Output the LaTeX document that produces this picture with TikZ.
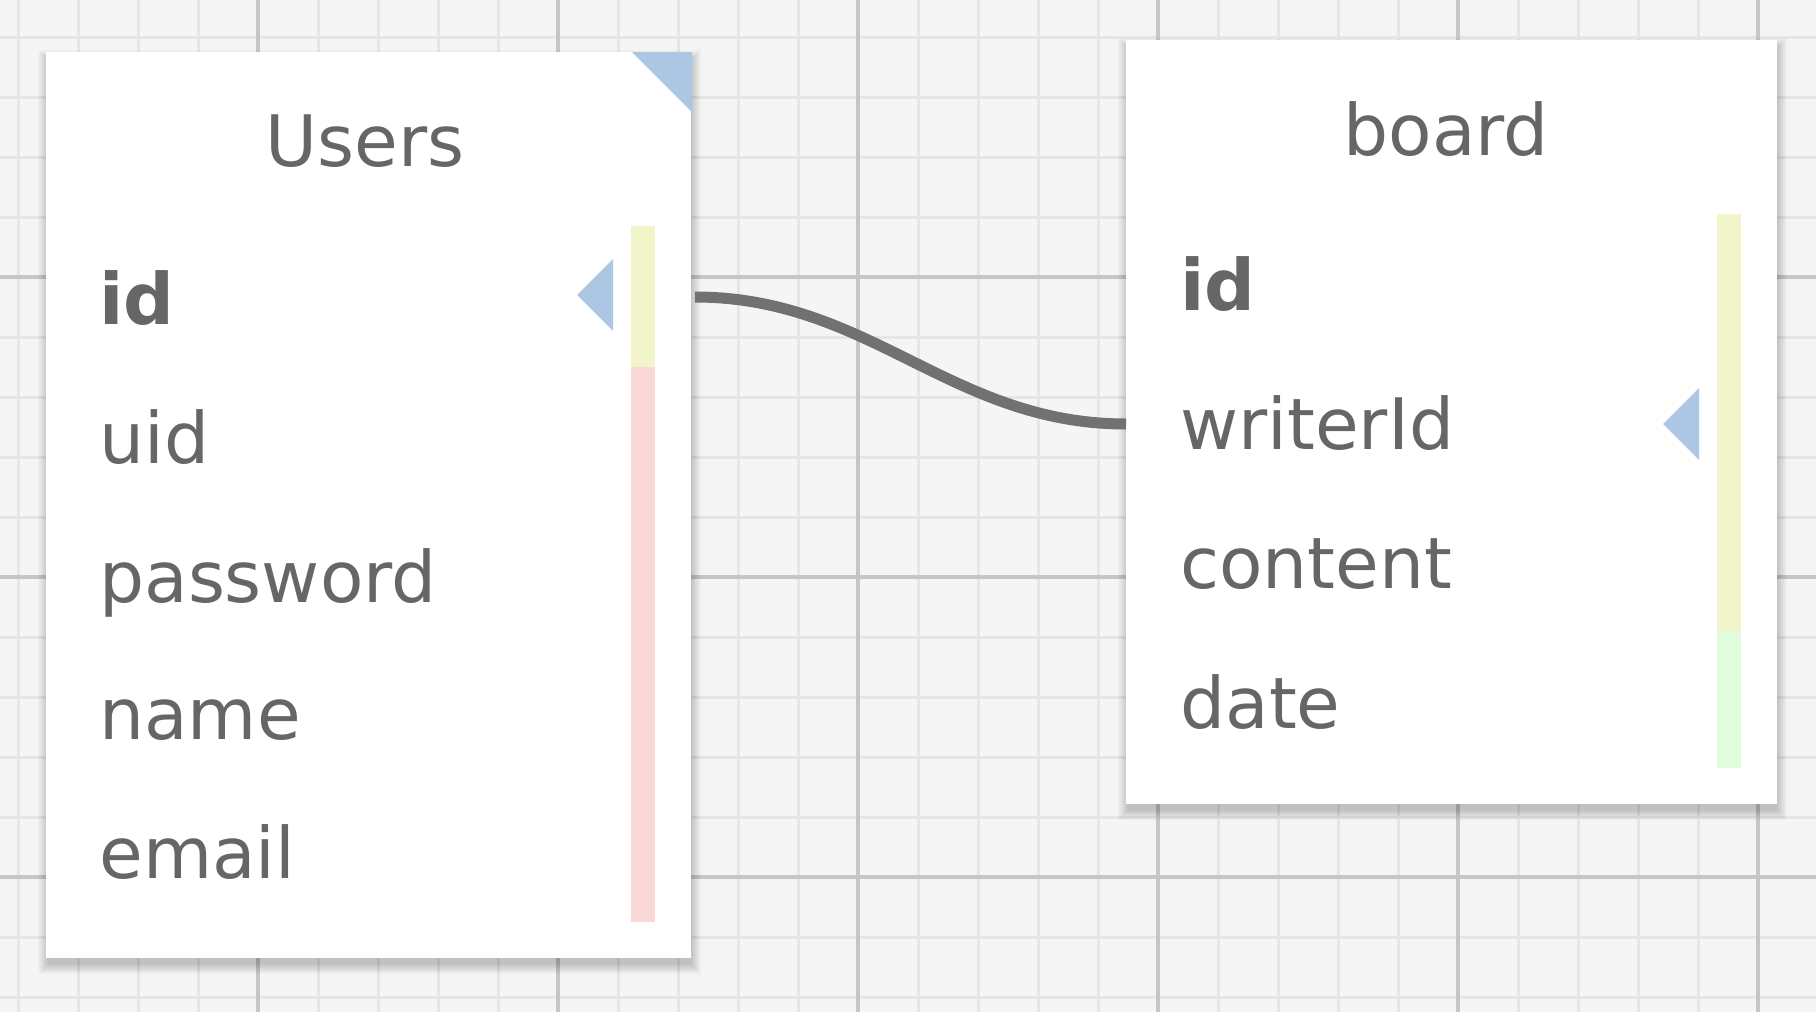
\documentclass[tikz,border=0pt]{standalone}
\usepackage{fontspec}
\setmainfont{DejaVu Sans}
\usetikzlibrary{calc}

\definecolor{gridbg}{HTML}{F5F5F5}
\definecolor{gridminor}{HTML}{E6E6E6}
\definecolor{gridmajor}{HTML}{C6C6C6}
\definecolor{fieldgray}{HTML}{666666}
\definecolor{linkgray}{HTML}{717171}
\definecolor{keyblue}{HTML}{ABC7E4}
\definecolor{keyyellow}{HTML}{F2F5C9}
\definecolor{fieldpink}{HTML}{F8D9D7}
\definecolor{fieldgreen}{HTML}{E1FCDB}

\begin{document}
\begin{tikzpicture}[x=0.5pt,y=-0.5pt,
	tablebox/.style={fill=white,draw=none,inner sep=0pt,anchor=north west},
	field/.style={anchor=base west,text=fieldgray,inner sep=0pt,font=\fontsize{35.5}{40}\selectfont},
	keyfield/.style={field,font=\fontsize{35.5}{40}\selectfont\bfseries},
	tabletitle/.style={field,anchor=base},
	connector/.style={draw=linkgray,line width=5.5pt}]

\useasboundingbox (0,0) rectangle (1816,1012);
\fill[gridbg] (0,0) rectangle (1816,1012);

%grid
\foreach \x in {18,78,...,1816}
{
	\draw[gridminor,line width=1.5pt] (\x,0)--(\x,1012);
}
\foreach \y in {37,97,...,1012}
{
	\draw[gridminor,line width=1.5pt] (0,\y)--(1816,\y);
}
\foreach \x in {258,558,...,1758}
{
	\draw[gridmajor,line width=2pt] (\x,0)--(\x,1012);
}
\foreach \y in {277,577,877}
{
	\draw[gridmajor,line width=2pt] (0,\y)--(1816,\y);
}

%shadows
\foreach \k in {0,...,10}
{
	\fill[black,opacity=0.018] (46-\k+2,52-\k+8) rectangle (691+\k,958+\k+6);
	\fill[black,opacity=0.018] (1126-\k+2,40-\k+8) rectangle (1777+\k,804+\k+6);
}

%tables
\node[tablebox,minimum width=322.5pt,minimum height=453pt](users) at (46,52){};
\node[tablebox,minimum width=325.5pt,minimum height=382pt](board) at (1126,40){};

\fill[keyblue](users.north east)--++(-60,0)--++(60,60)--cycle;

%colour bars
\fill[keyyellow](631,226) rectangle (655,367);
\fill[fieldpink](631,367) rectangle (655,922);
\fill[keyyellow](1717,214) rectangle (1741,631);
\fill[fieldgreen](1717,631) rectangle (1741,768);

%key markers
\fill[keyblue](577,295)--(613,259)--(613,331)--cycle;
\fill[keyblue](1663,424)--(1699,388)--(1699,460)--cycle;

%texts
\node[tabletitle](users-title) at (365,166){Users};
\node[keyfield](users-id) at (99,324){id};
\foreach \name/\y in {uid/463,password/602,name/739,email/878}
{
	\node[field](users-\name) at (99,\y){\name};
}

\node[tabletitle](board-title) at (1446,155){board};
\node[keyfield](board-id) at (1180,310){id};
\foreach \name/\y in {writerId/449,content/588,date/728}
{
	\node[field](board-\name) at (1180,\y){\name};
}

%link
\coordinate (idport) at ($(users.east |- 0,297)+(3,0)$);
\coordinate (writerport) at (board.west |- 0,424);
\draw[connector](idport) .. controls ($(idport)+(175,0)$) and ($(writerport)+(-175,0)$) .. (writerport);
\end{tikzpicture}
\end{document}
